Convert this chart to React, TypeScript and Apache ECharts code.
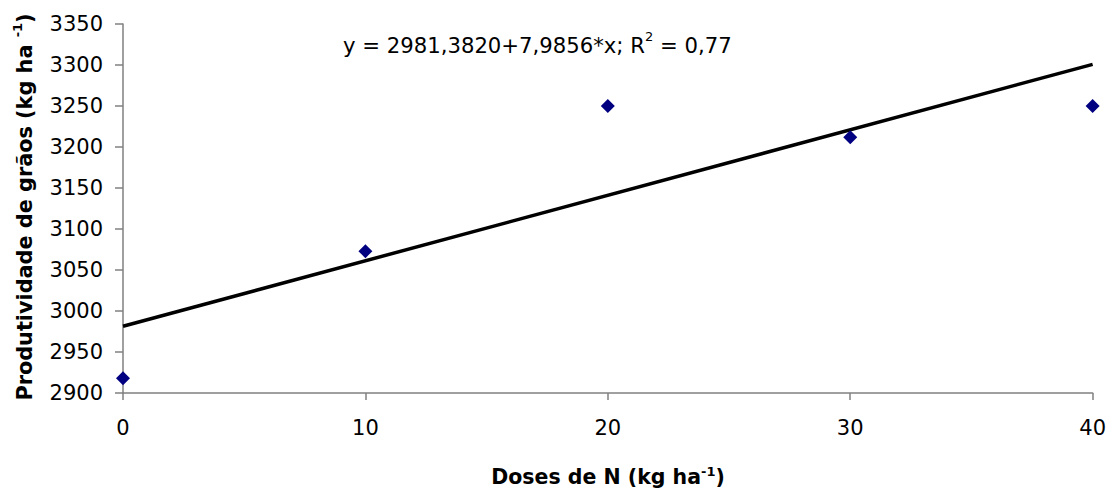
import React, { useEffect, useRef } from "react";
import * as echarts from "echarts";

const doses = [0, 10, 20, 30, 40];
const produtividade = [2918, 3073, 3250, 3212, 3250];
const intercept = 2981.382;
const slope = 7.9856;
const trendX = [0, 40];
const yTicks = [2900, 3350, 50];
const xTicks = [0, 40, 10];

const FONT = "'DejaVu Sans', sans-serif";

export default function App() {
  const ref = useRef<HTMLDivElement>(null);
  useEffect(() => {
    if (!ref.current) return;
    const chart = echarts.init(ref.current, null, { renderer: "svg" });
    const trend = trendX.map((x) => [x, intercept + slope * x]);
    chart.setOption({
      animation: false,
      backgroundColor: "#ffffff",
      grid: { left: 123, right: 16, top: 24, bottom: 95, containLabel: false },
      xAxis: {
        type: "value",
        min: xTicks[0],
        max: xTicks[1],
        interval: xTicks[2],
        splitLine: { show: false },
        axisLine: { show: true, onZero: false, lineStyle: { color: "#808080", width: 1.5 } },
        axisTick: { show: true, inside: false, length: 7, lineStyle: { color: "#808080", width: 1.5 } },
        axisLabel: { color: "#000", fontSize: 21, fontFamily: FONT, margin: 24, formatter: (v: number) => String(v) },
      },
      yAxis: {
        type: "value",
        min: yTicks[0],
        max: yTicks[1],
        interval: yTicks[2],
        splitLine: { show: false },
        axisLine: { show: true, onZero: false, lineStyle: { color: "#808080", width: 1.5 } },
        axisTick: { show: true, inside: false, length: 8, lineStyle: { color: "#808080", width: 1.5 } },
        axisLabel: { color: "#000", fontSize: 21, fontFamily: FONT, margin: 20, formatter: (v: number) => String(v) },
      },
      series: [
        {
          type: "line",
          data: trend,
          symbol: "none",
          lineStyle: { color: "#000", width: 3.5 },
          z: 2,
        },
        {
          type: "scatter",
          data: doses.map((d, i) => [d, produtividade[i]]),
          symbol: "diamond",
          symbolSize: 14,
          itemStyle: { color: "#000080", opacity: 1 },
          z: 3,
        },
      ],
      graphic: [
        {
          type: "text",
          left: 343,
          top: 30,
          style: {
            text: "{n|y = 2981,3820+7,9856*x; R}{s|2}{n| = 0,77}",
            rich: {
              n: { fontSize: 21.2, fontFamily: FONT, fill: "#000", verticalAlign: "bottom", lineHeight: 26 },
              s: { fontSize: 13, fontFamily: FONT, fill: "#000", verticalAlign: "top", lineHeight: 26 },
            },
          },
        },
        {
          type: "text",
          x: 608,
          y: 476,
          style: {
            text: "{n|Doses de N (kg ha}{s|-1}{n|)}",
            align: "center",
            verticalAlign: "middle",
            rich: {
              n: { fontSize: 20.5, fontWeight: "bold", fontFamily: FONT, fill: "#000", verticalAlign: "bottom", lineHeight: 22 },
              s: { fontSize: 13, fontWeight: "bold", fontFamily: FONT, fill: "#000", verticalAlign: "top", lineHeight: 22 },
            },
          },
        },
        {
          type: "text",
          x: 23,
          y: 207,
          rotation: Math.PI / 2,
          style: {
            text: "{n|Produtividade de grãos (kg ha }{s|-1}{n|)}",
            align: "center",
            verticalAlign: "middle",
            rich: {
              n: { fontSize: 20.8, fontWeight: "bold", fontFamily: FONT, fill: "#000", verticalAlign: "bottom", lineHeight: 24 },
              s: { fontSize: 13, fontWeight: "bold", fontFamily: FONT, fill: "#000", verticalAlign: "top", lineHeight: 24 },
            },
          },
        },
      ],
    });
    return () => chart.dispose();
  }, []);
  return <div ref={ref} style={{ width: 1109, height: 488, position: "absolute", left: 0, top: 0 }} />;
}
